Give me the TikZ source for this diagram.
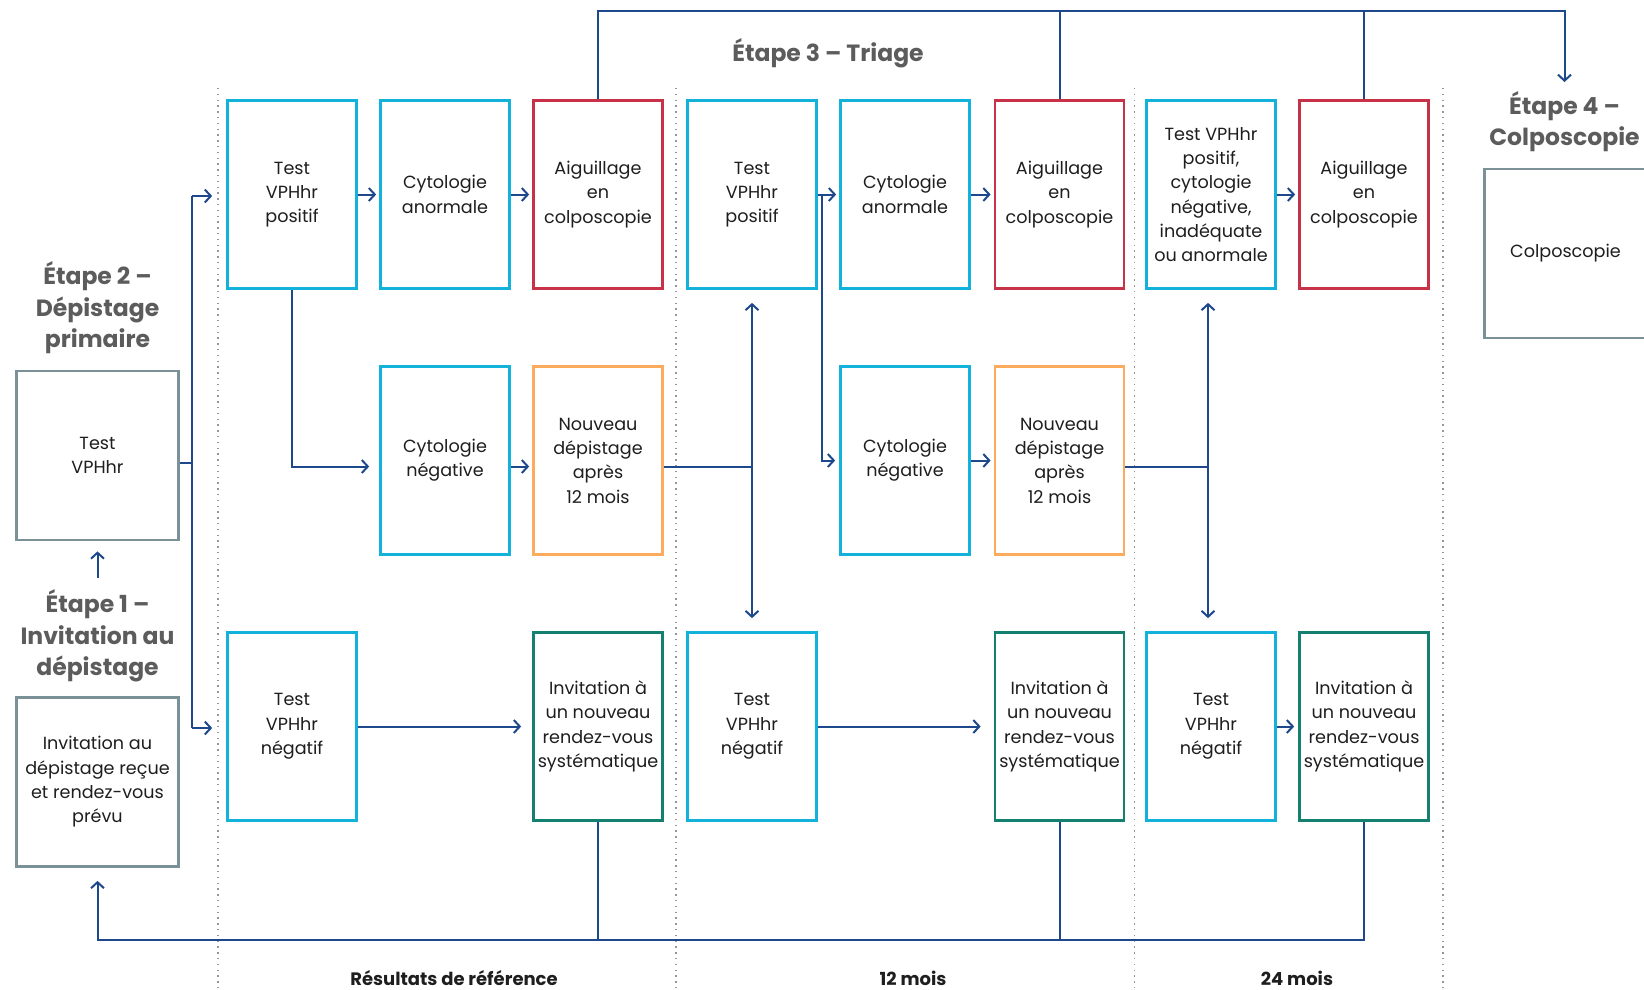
\documentclass[tikz,border=0pt]{standalone}
\usepackage{fontspec}
\setmainfont{Poppins}
\usetikzlibrary{arrows.meta,calc}
\definecolor{cyanb}{RGB}{18,178,218}
\definecolor{redb}{RGB}{200,50,72}
\definecolor{orab}{RGB}{252,172,92}
\definecolor{tealb}{RGB}{20,128,112}
\definecolor{grayb}{RGB}{122,145,152}
\definecolor{conn}{RGB}{30,72,140}
\definecolor{headc}{RGB}{92,92,92}
\definecolor{txt}{RGB}{30,30,30}
\definecolor{dotc}{RGB}{150,150,150}
\begin{document}
\begin{tikzpicture}[x=1pt,y=-1pt,
  box/.style={draw, line width=2.7pt, minimum width=129pt, minimum height=188pt, inner sep=1pt, align=center, text=txt, font=\fontsize{17.6}{24.3}\selectfont},
  cyb/.style={box, draw=cyanb},
  rdb/.style={box, draw=redb},
  orb/.style={box, draw=orab},
  tlb/.style={box, draw=tealb},
  gyb/.style={box, draw=grayb, minimum width=162pt, minimum height=169pt},
  head/.style={align=center, text=headc, font=\fontsize{23.5}{31.5}\selectfont\bfseries},
  foot/.style={text=txt, font=\fontsize{18}{20}\selectfont\bfseries},
  line/.style={draw=conn, line width=2pt},
  arr/.style={line, -{Straight Barb[length=6pt,width=13pt,line width=2pt]}},
  dotline/.style={draw=dotc, line width=1.4pt, dash pattern=on 1.4pt off 4.4pt}
]
\fill[white] (0,0) rectangle (1644,989);
\useasboundingbox (0,0) rectangle (1644,989);

% dotted separators
\draw[dotline] (218,88) -- (218,989);
\draw[dotline] (676,88) -- (676,989);
\draw[dotline] (1134.5,88) -- (1134.5,989);
\draw[dotline] (1443,88) -- (1443,989);

% headings
\node[head] (h2) at (97.5,308) {Étape 2 –\\Dépistage\\primaire};
\node[head] (h1) at (97.5,636) {Étape 1 –\\Invitation au\\dépistage};
\node[head] (h3) at (828,53) {Étape 3 – Triage};
\node[head] (h4) at (1564.5,121.5) {Étape 4 –\\Colposcopie};

% left boxes
\node[gyb] (e2) at (97.5,455.5) {Test\\VPHhr};
\node[gyb] (e1) at (97.5,782) {Invitation au\\dépistage reçue\\et rendez-vous\\prévu};
\node[gyb] (e4) at (1565.5,253.5) {Colposcopie};

% top row
\node[cyb] (pos1) at (292,194.5) {Test\\VPHhr\\positif};
\node[cyb] (ca1) at (445,194.5) {Cytologie\\anormale};
\node[rdb] (aig1) at (598,194.5) {Aiguillage\\en\\colposcopie};
\node[cyb] (pos2) at (752,194.5) {Test\\VPHhr\\positif};
\node[cyb] (ca2) at (905,194.5) {Cytologie\\anormale};
\node[rdb] (aig2) at (1059.5,194.5) {Aiguillage\\en\\colposcopie};
\node[cyb] (pos3) at (1211,194.5) {Test VPHhr\\positif,\\cytologie\\négative,\\inadéquate\\ou anormale};
\node[rdb] (aig3) at (1364,194.5) {Aiguillage\\en\\colposcopie};

% middle row
\node[cyb] (cn1) at (445,460.5) {Cytologie\\négative};
\node[orb] (nv1) at (598,460.5) {Nouveau\\dépistage\\après\\12 mois};
\node[cyb] (cn2) at (905,460.5) {Cytologie\\négative};
\node[orb] (nv2) at (1059.5,460.5) {Nouveau\\dépistage\\après\\12 mois};

% bottom row
\node[cyb] (neg1) at (292,726.5) {Test\\VPHhr\\négatif};
\node[tlb] (inv1) at (598,726.5) {Invitation à\\un nouveau\\rendez-vous\\systématique};
\node[cyb] (neg2) at (752,726.5) {Test\\VPHhr\\négatif};
\node[tlb] (inv2) at (1059.5,726.5) {Invitation à\\un nouveau\\rendez-vous\\systématique};
\node[cyb] (neg3) at (1211,726.5) {Test\\VPHhr\\négatif};
\node[tlb] (inv3) at (1364,726.5) {Invitation à\\un nouveau\\rendez-vous\\systématique};

% footer labels
\node[foot] (f1) at (454,978) {Résultats de référence};
\node[foot] (f2) at (913,978) {12 mois};
\node[foot] (f3) at (1297,978) {24 mois};

% bus from primary screening
\coordinate (busT) at (192,196);
\coordinate (busB) at (192,728);
\draw[line] ([yshift=-7pt]e2.east) -- (busT |- 0,462.5);
\draw[line] (busT) -- (busB);
\draw[arr, shorten >=14pt] (busT) -- (pos1.west |- busT);
\draw[arr, shorten >=14pt] (busB) -- (neg1.west |- busB);

% step 1 -> step 2
\coordinate (a12) at (97.5,578);
\draw[arr, shorten >=10pt] (a12) -- (e2.south);

% top row arrows
\draw[arr, shorten >=3pt] (pos1.east) -- (ca1.west);
\draw[arr, shorten >=3pt] (ca1.east) -- (aig1.west);
\draw[arr, shorten >=3pt] (pos2.east) -- (ca2.west);
\draw[arr, shorten >=3pt] (ca2.east) -- (aig2.west);
\draw[arr, shorten >=3pt] (pos3.east) -- (aig3.west);
\draw[arr, shorten >=4pt] ([xshift=4pt]pos2.east) |- (cn2.west);

% middle row arrows
\draw[arr, shorten >=10pt] (pos1.south) |- ([yshift=-6pt]cn1.west);
\draw[arr, shorten >=3pt] ([yshift=-6pt]cn1.east) -- ([yshift=-6pt]nv1.west);
\draw[arr, shorten >=3pt] (cn2.east) -- (nv2.west);
\path ([yshift=-6pt]nv1.east) coordinate (n1e);
\path ([yshift=-6pt]nv2.east) coordinate (n2e);
\coordinate (j1) at (pos2.south |- n1e);
\coordinate (j2) at ($(pos3.south |- n2e)+(-3,0)$);
\draw[line] (n1e) -- (j1);
\draw[arr, shorten >=13pt] (j1) -- (pos2.south);
\draw[arr, shorten >=13pt] (j1) -- (neg2.north);
\draw[line] (n2e) -- (j2);
\draw[arr, shorten >=13pt] (j2) -- (j2 |- pos3.south);
\draw[arr, shorten >=13pt] (j2) -- (j2 |- neg3.north);

% bottom row arrows
\draw[arr, shorten >=11pt] (neg1.east) -- (inv1.west);
\draw[arr, shorten >=13pt] (neg2.east) -- (inv2.west);
\draw[arr, shorten >=4pt] (neg3.east) -- (inv3.west);

% return loop
\coordinate (botY) at (0,939.5);
\draw[line] (inv1.south) -- (inv1.south |- botY);
\draw[line] (inv2.south) -- (inv2.south |- botY);
\draw[arr, shorten >=13pt] (inv3.south) |- (e1.south |- botY) -- (e1.south);

% colposcopy loop
\coordinate (topY) at (0,10.5);
\coordinate (c4) at (1564.5,82);
\draw[arr] (aig1.north) -- (aig1.north |- topY) -| (c4);
\draw[line] (aig2.north) -- (aig2.north |- topY);
\draw[line] (aig3.north) -- (aig3.north |- topY);
\end{tikzpicture}
\end{document}
